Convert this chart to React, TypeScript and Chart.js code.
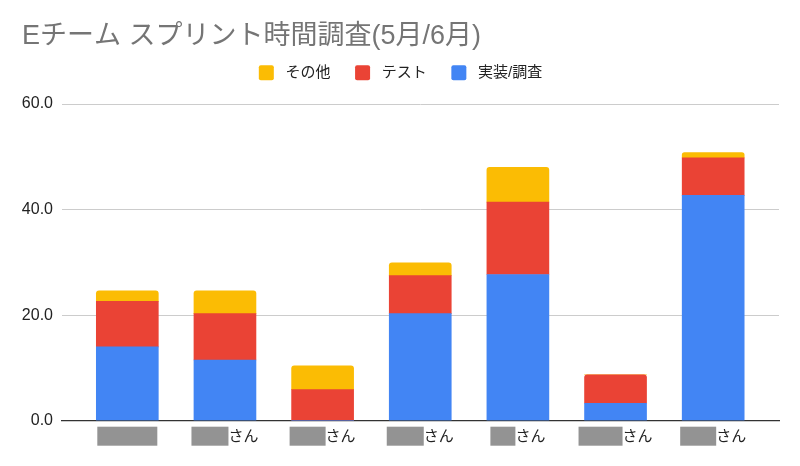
import React, { useEffect, useRef } from 'react';
import { Chart, registerables } from 'chart.js';
import type { ChartConfiguration, Plugin } from 'chart.js';

Chart.register(...registerables);

// names are masked in the source picture, only the honorific is visible
const nameSuffixes = ['', 'さん', 'さん', 'さん', 'さん', 'さん', 'さん'];
const maskWidths = [60, 37, 36, 37, 25, 44, 36];

const implValues = [14.0, 11.5, 0, 20.3, 27.7, 3.3, 42.7];
const testValues = [8.6, 8.8, 5.9, 7.2, 13.7, 5.4, 7.1];
const otherValues = [2.0, 4.3, 4.5, 2.4, 6.6, 0, 1.0];

const yTicks = [0, 20, 40, 60];

const FONT = "'Liberation Sans', 'Noto Sans CJK JP', sans-serif";

const series = [
  { label: '実装/調査', values: implValues, color: '#4285F4' },
  { label: 'テスト', values: testValues, color: '#EA4335' },
  { label: 'その他', values: otherValues, color: '#FBBC04' },
];

// top segment of each stack gets rounded corners
const isTopSegment = (dsIndex: number, i: number) =>
  series.slice(dsIndex + 1).every((s) => !s.values[i]);

const nameLabels: Plugin = {
  id: 'nameLabels',
  afterDraw(chart) {
    const { ctx } = chart;
    const xs = chart.scales.x;
    ctx.save();
    ctx.font = `15px ${FONT}`;
    ctx.textBaseline = 'middle';
    nameSuffixes.forEach((suffix, i) => {
      const cx = xs.getPixelForValue(i);
      const tw = ctx.measureText(suffix).width;
      const bw = maskWidths[i];
      const left = cx - (bw + tw) / 2;
      const top = xs.top + 6;
      ctx.fillStyle = '#939393';
      ctx.fillRect(left, top, bw, 19);
      ctx.fillStyle = '#222222';
      ctx.fillText(suffix, left + bw, top + 10);
    });
    ctx.restore();
  },
};

const App: React.FC = () => {
  const canvasRef = useRef<HTMLCanvasElement>(null);
  const chartRef = useRef<Chart | null>(null);

  useEffect(() => {
    if (!canvasRef.current) return;
    if (chartRef.current) chartRef.current.destroy();

    Chart.defaults.font.family = FONT;

    const config: ChartConfiguration = {
      type: 'bar',
      data: {
        datasets: series.map((s, d) => ({
          label: s.label,
          data: s.values.map((v, i) => ({ x: i, y: v })),
          backgroundColor: s.color,
          borderWidth: 0,
          barThickness: 62,
          xAxisID: 'x',
          borderRadius: (c: any) =>
            isTopSegment(d, c.dataIndex) ? { topLeft: 3, topRight: 3, bottomLeft: 0, bottomRight: 0 } : 0,
        })),
      } as any,
      options: {
        animation: false,
        responsive: true,
        maintainAspectRatio: false,
        layout: { padding: { left: 22, right: 21, top: 0, bottom: 0 } },
        plugins: {
          tooltip: { enabled: false },
          title: {
            display: true,
            text: 'Eチーム スプリント時間調査(5月/6月)',
            align: 'start',
            color: '#757575',
            font: { size: 27, weight: 'normal' },
            padding: { top: 20, bottom: -11.7 },
          },
          legend: {
            position: 'top',
            align: 'center',
            reverse: true,
            labels: {
              boxWidth: 15,
              boxHeight: 15,
              padding: 24.6,
              color: '#222222',
              font: { size: 15 },
              useBorderRadius: true,
              borderRadius: 2,
              generateLabels: (chart: Chart) =>
                Chart.defaults.plugins.legend.labels
                  .generateLabels(chart)
                  .map((l) => ({ ...l, text: ' ' + l.text })),
            },
          },
        },
        scales: {
          x: {
            type: 'linear',
            position: 'bottom',
            stacked: true,
            offset: false,
            min: -0.674,
            max: nameSuffixes.length - 1 + 0.674,
            grid: { display: false },
            border: { display: true, color: '#333333', width: 1.2 },
            ticks: { display: false, stepSize: 1, includeBounds: false },
            afterFit: (s: any) => {
              s.height = 45.3;
            },
          },
          xTop: {
            type: 'linear',
            position: 'top',
            offset: false,
            grid: { display: false },
            border: { display: false },
            ticks: { display: false },
            afterFit: (s: any) => {
              s.height = 13.7;
            },
          },
          y: {
            stacked: true,
            min: yTicks[0],
            max: yTicks[yTicks.length - 1],
            grid: { color: '#cccccc', drawTicks: false },
            border: { display: false },
            afterBuildTicks: (s: any) => {
              s.ticks = yTicks.map((v) => ({ value: v }));
            },
            ticks: {
              padding: 8.5,
              color: '#222222',
              font: { size: 16 },
              callback: (v: any) => Number(v).toFixed(1),
            },
            afterFit: (s: any) => {
              s.width = 39.5;
            },
          },
        },
      },
      plugins: [nameLabels],
    };

    chartRef.current = new Chart(canvasRef.current, config);

    return () => {
      if (chartRef.current) {
        chartRef.current.destroy();
        chartRef.current = null;
      }
    };
  }, []);

  return (
    <div style={{ position: 'fixed', left: 0, top: 0, width: 800, height: 466, background: '#ffffff' }}>
      <canvas ref={canvasRef}></canvas>
    </div>
  );
};

export default App;
